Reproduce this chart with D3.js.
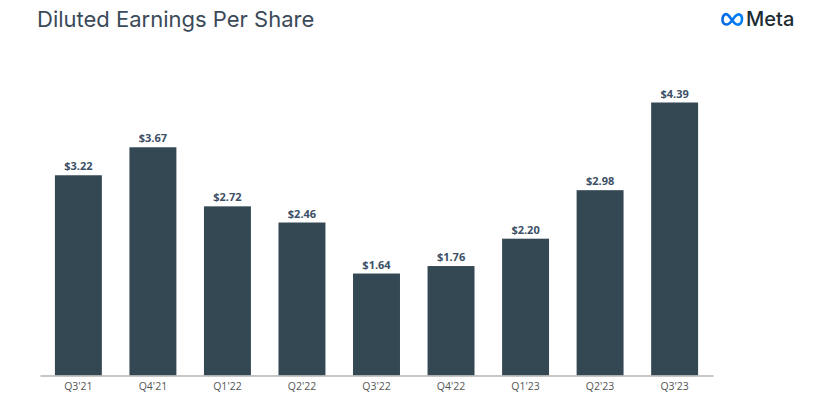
<!DOCTYPE html>
<html><head><meta charset="utf-8">
<script src="https://cdn.jsdelivr.net/npm/d3@7"></script>
<style>body{margin:0;background:#fff;}svg{display:block;font-family:"Open Sans","Noto Sans",sans-serif;}</style>
</head><body>
<svg id="c" width="822" height="405"></svg>
<script>
const categories = ["Q3'21","Q4'21","Q1'22","Q2'22","Q3'22","Q4'22","Q1'23","Q2'23","Q3'23"];
const values = [3.22,3.67,2.72,2.46,1.64,1.76,2.20,2.98,4.39];
const title = "Diluted Earnings Per Share";

const svg = d3.select("#c");
const x = d3.scaleBand().domain(categories).range([40,713]).paddingInner(0.37).paddingOuter(0.2);
const y = d3.scaleLinear().domain([0,4.39]).range([375.5,102.5]);

svg.append("text").attr("x",37).attr("y",27).attr("font-size",22).attr("fill","#3b4a59")
  .attr("font-family","Inter, 'Open Sans', sans-serif").text(title);

// Meta logo
const logo = svg.append("g").attr("transform","translate(721,12)");
const grad = svg.append("defs").append("linearGradient").attr("id","mg").attr("x1","0").attr("x2","1");
grad.append("stop").attr("offset","0").attr("stop-color","#0668E1");
grad.append("stop").attr("offset","1").attr("stop-color","#0082FB");
logo.append("path")
  .attr("d","M1.5,8 C1.5,2 5,1 7.5,3.5 C10,6 13,12 16,12.5 C19,13 21,11 21,7 C21,2 17,1 14,4.5 C11,8 9,12.5 5.5,12.5 C2.5,12.5 1.5,10 1.5,8 Z")
  .attr("fill","none").attr("stroke","url(#mg)").attr("stroke-width",2.6).attr("stroke-linejoin","round");
svg.append("text").attr("x",746).attr("y",26).attr("font-size",20).attr("font-weight",500).attr("fill","#1c2b33")
  .attr("font-family","Inter, 'Open Sans', sans-serif").text("Meta");

// bars
svg.append("g").selectAll("rect").data(values).join("rect")
  .attr("x",(d,i)=>x(categories[i])).attr("width",x.bandwidth())
  .attr("y",d=>y(d)).attr("height",d=>y(0)-y(d)).attr("fill","#344854");

svg.append("g").selectAll("text").data(values).join("text")
  .attr("x",(d,i)=>x(categories[i])+x.bandwidth()/2).attr("y",d=>y(d)-5)
  .attr("text-anchor","middle").attr("font-size",11).attr("font-weight","bold").attr("fill","#3c4f66")
  .text(d=>"$"+d.toFixed(2));

// axis
const ax = svg.append("g").attr("transform","translate(0,375.5)").call(d3.axisBottom(x).tickSize(0).tickPadding(7));
ax.select(".domain").attr("stroke","#b3b3b3").attr("stroke-width",1.5);
ax.selectAll("text").attr("font-size",10.5).attr("fill","#555").attr("font-family","'Open Sans','Noto Sans',sans-serif");
</script>
</body></html>
